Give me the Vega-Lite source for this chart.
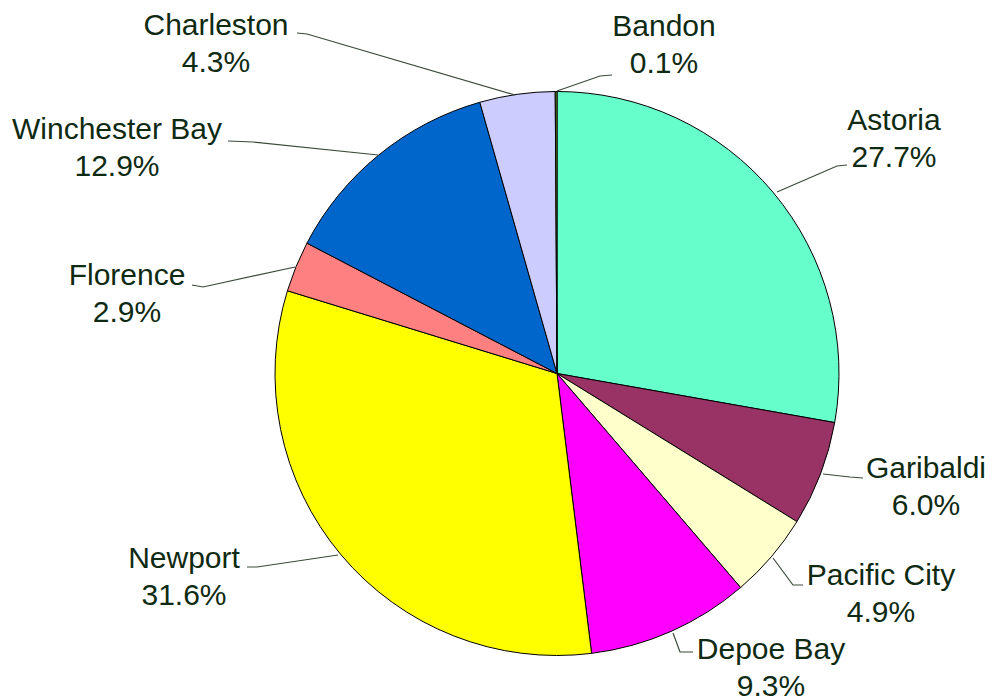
{
  "$schema": "https://vega.github.io/schema/vega-lite/v6.json",
  "width": 996,
  "height": 700,
  "autosize": {"type": "none"},
  "padding": 0,
  "background": "white",
  "config": {"view": {"stroke": null}},
  "datasets": {
    "slices": [
      {"port": "Astoria", "share": 27.7, "order": 1},
      {"port": "Garibaldi", "share": 6.0, "order": 2},
      {"port": "Pacific City", "share": 4.9, "order": 3},
      {"port": "Depoe Bay", "share": 9.3, "order": 4},
      {"port": "Newport", "share": 31.6, "order": 5},
      {"port": "Florence", "share": 2.9, "order": 6},
      {"port": "Winchester Bay", "share": 12.9, "order": 7},
      {"port": "Charleston", "share": 4.3, "order": 8},
      {"port": "Bandon", "share": 0.1, "order": 9}
    ],
    "labels": [
      {"port": "Astoria", "label": "Astoria\n27.7%", "lx": 337, "ly": 252.5},
      {"port": "Garibaldi", "label": "Garibaldi\n6.0%", "lx": 369, "ly": -95.5},
      {"port": "Pacific City", "label": "Pacific City\n4.9%", "lx": 324, "ly": -202.5},
      {"port": "Depoe Bay", "label": "Depoe Bay\n9.3%", "lx": 214, "ly": -276},
      {"port": "Newport", "label": "Newport\n31.6%", "lx": -373, "ly": -185.5},
      {"port": "Florence", "label": "Florence\n2.9%", "lx": -430, "ly": 97.5},
      {"port": "Winchester Bay", "label": "Winchester Bay\n12.9%", "lx": -440, "ly": 243.5},
      {"port": "Charleston", "label": "Charleston\n4.3%", "lx": -341, "ly": 348},
      {"port": "Bandon", "label": "Bandon\n0.1%", "lx": 107, "ly": 346.5}
    ],
    "leaders": [
      {"port": "Astoria", "seq": 1, "lx": 290, "ly": 208.5},
      {"port": "Astoria", "seq": 2, "lx": 280, "ly": 207.5},
      {"port": "Astoria", "seq": 3, "lx": 220, "ly": 181.5},
      {"port": "Garibaldi", "seq": 1, "lx": 306, "ly": -104.5},
      {"port": "Garibaldi", "seq": 2, "lx": 293, "ly": -103.5},
      {"port": "Garibaldi", "seq": 3, "lx": 266, "ly": -100.5},
      {"port": "Pacific City", "seq": 1, "lx": 246, "ly": -211.5},
      {"port": "Pacific City", "seq": 2, "lx": 236, "ly": -211.5},
      {"port": "Pacific City", "seq": 3, "lx": 216, "ly": -184.5},
      {"port": "Depoe Bay", "seq": 1, "lx": 136, "ly": -278.5},
      {"port": "Depoe Bay", "seq": 2, "lx": 123, "ly": -278.5},
      {"port": "Depoe Bay", "seq": 3, "lx": 116, "ly": -259.5},
      {"port": "Newport", "seq": 1, "lx": -310, "ly": -193.5},
      {"port": "Newport", "seq": 2, "lx": -300, "ly": -193.5},
      {"port": "Newport", "seq": 3, "lx": -219, "ly": -181.5},
      {"port": "Florence", "seq": 1, "lx": -365, "ly": 88.5},
      {"port": "Florence", "seq": 2, "lx": -354, "ly": 86.5},
      {"port": "Florence", "seq": 3, "lx": -262, "ly": 106.5},
      {"port": "Winchester Bay", "seq": 1, "lx": -329, "ly": 232.5},
      {"port": "Winchester Bay", "seq": 2, "lx": -304, "ly": 231.5},
      {"port": "Winchester Bay", "seq": 3, "lx": -179, "ly": 218.5},
      {"port": "Charleston", "seq": 1, "lx": -260, "ly": 340.5},
      {"port": "Charleston", "seq": 2, "lx": -250, "ly": 339.5},
      {"port": "Charleston", "seq": 3, "lx": -42, "ly": 278.5},
      {"port": "Bandon", "seq": 1, "lx": 55, "ly": 298.5},
      {"port": "Bandon", "seq": 2, "lx": 43, "ly": 297.5},
      {"port": "Bandon", "seq": 3, "lx": 0, "ly": 282.5}
    ]
  },
  "layer": [
    {
      "data": {"name": "slices"},
      "mark": {"type": "arc", "outerRadius": 282, "stroke": "#000000", "strokeWidth": 1},
      "encoding": {
        "theta": {"field": "share", "type": "quantitative", "stack": true},
        "order": {"field": "order", "type": "quantitative"},
        "x": {"datum": 0, "type": "quantitative", "scale": {"domain": [-557, 439], "nice": false, "zero": false}, "axis": null},
        "y": {"datum": 0, "type": "quantitative", "scale": {"domain": [-326.5, 373.5], "nice": false, "zero": false}, "axis": null},
        "color": {
          "field": "port",
          "type": "nominal",
          "legend": null,
          "scale": {
            "domain": ["Astoria", "Garibaldi", "Pacific City", "Depoe Bay", "Newport", "Florence", "Winchester Bay", "Charleston", "Bandon"],
            "range": ["#66FFCC", "#993366", "#FFFFCC", "#FF00FF", "#FFFF00", "#FF8080", "#0066CC", "#CCCCFF", "#7FA020"]
          }
        }
      }
    },
    {
      "data": {"name": "leaders"},
      "mark": {"type": "line", "color": "#3a4a3a", "strokeWidth": 1.2},
      "encoding": {
        "x": {"field": "lx", "type": "quantitative", "axis": null},
        "y": {"field": "ly", "type": "quantitative", "axis": null},
        "detail": {"field": "port"},
        "order": {"field": "seq", "type": "quantitative"}
      }
    },
    {
      "data": {"name": "labels"},
      "mark": {"type": "text", "font": "Liberation Sans", "fontSize": 30, "lineHeight": 37, "lineBreak": "\n", "align": "center", "baseline": "middle", "color": "#0f2a12"},
      "encoding": {
        "x": {"field": "lx", "type": "quantitative", "axis": null},
        "y": {"field": "ly", "type": "quantitative", "axis": null},
        "text": {"field": "label"}
      }
    }
  ],
  "resolve": {"scale": {"color": "independent"}}
}
